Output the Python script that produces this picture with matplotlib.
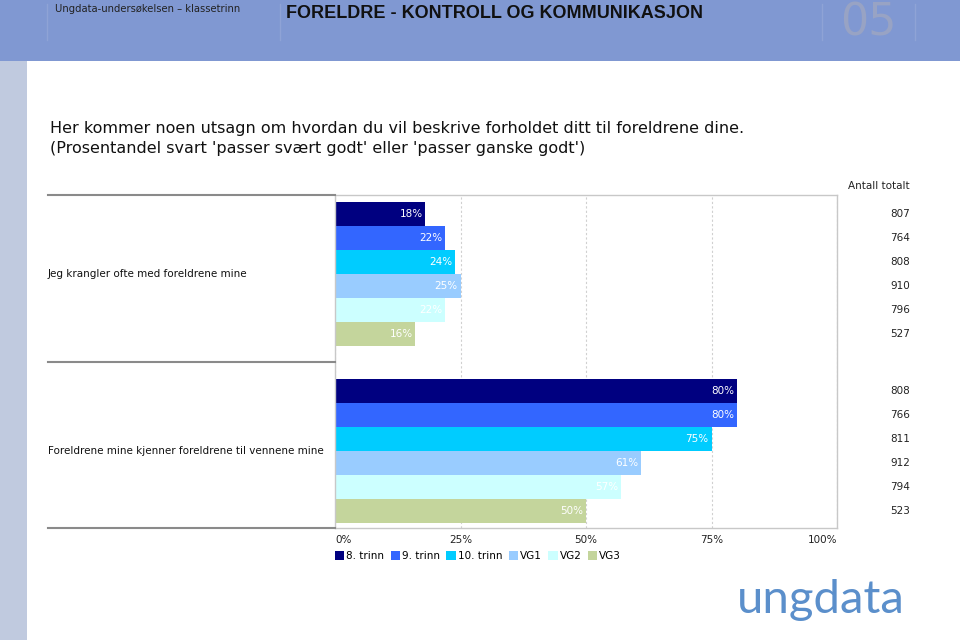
import matplotlib.pyplot as plt
from matplotlib.patches import Rectangle
from matplotlib.lines import Line2D
from matplotlib.transforms import blended_transform_factory

# data
statements = ["Jeg krangler ofte med foreldrene mine",
              "Foreldrene mine kjenner foreldrene til vennene mine"]
grades = ["8. trinn", "9. trinn", "10. trinn", "VG1", "VG2", "VG3"]
pct_krangler = [18, 22, 24, 25, 22, 16]
pct_kjenner = [80, 80, 75, 61, 57, 50]
n_krangler = [807, 764, 808, 910, 796, 527]
n_kjenner = [808, 766, 811, 912, 794, 523]
xticks = [0, 25, 50, 75, 100]
colors = ["#000080", "#3366ff", "#00ccff", "#99ccff", "#ccffff", "#c4d59c"]

W, H = 960, 640
fig = plt.figure(figsize=(9.6, 6.4), dpi=100)
fig.patch.set_facecolor("white")

def fx(px):
    return px / W

def fy(py):
    return 1 - py / H

# header band and left strip
fig.patches.append(Rectangle((0, fy(61)), 1, 61 / H, transform=fig.transFigure,
                             facecolor="#8098d2", edgecolor="none", zorder=0))
fig.patches.append(Rectangle((0, 0), fx(27), fy(61), transform=fig.transFigure,
                             facecolor="#c0cadf", edgecolor="none", zorder=0))
for x in [47, 280, 822, 915]:
    fig.lines.append(Line2D([fx(x), fx(x)], [fy(4), fy(40)], transform=fig.transFigure,
                            color="#8fa3d6", lw=1))
fig.text(fx(55), fy(9), "Ungdata-undersøkelsen – klassetrinn", fontsize=7.2,
         family="Liberation Sans Narrow", va="center", color="#222222")
fig.text(fx(286), fy(14), "FORELDRE - KONTROLL OG KOMMUNIKASJON", fontsize=13,
         family="Liberation Sans", weight="bold", va="center", color="#111111")
fig.text(fx(868), fy(23), "05", fontsize=32, family="Liberation Sans Narrow",
         ha="center", va="center", color="#98a3c4")

# title
fig.text(fx(50), fy(128), "Her kommer noen utsagn om hvordan du vil beskrive forholdet ditt til foreldrene dine.",
         fontsize=11.5, family="DejaVu Sans", va="center", color="#111111")
fig.text(fx(50), fy(148), "(Prosentandel svart 'passer svært godt' eller 'passer ganske godt')",
         fontsize=11.5, family="DejaVu Sans", va="center", color="#111111")

# chart
ax = fig.add_axes([fx(335), fy(528), fx(837) - fx(335), (528 - 195) / H])
right_tr = blended_transform_factory(fig.transFigure, ax.transData)
bh = 24 / 177
groups = [pct_krangler, pct_kjenner]
counts = [n_krangler, n_kjenner]
for g, vals in enumerate(groups):
    for i, v in enumerate(vals):
        y = g + (i - 2.5) * bh
        ax.barh(y, v, height=bh, color=colors[i], edgecolor="none", zorder=2,
                label=grades[i] if g == 0 else None)
        ax.annotate(f"{v}%", (v, y), xytext=(-2, 0), textcoords="offset points",
                    ha="right", va="center", fontsize=7.5, color="white", zorder=3)
        ax.text(fx(910), y, str(counts[g][i]), transform=right_tr,
                fontsize=7.5, ha="right", va="center", color="#222222")
ax.text(fx(910), fy(186), "Antall totalt", transform=fig.transFigure, fontsize=7.5,
        ha="right", va="center", color="#222222")

ax.set_xlim(0, 100)
ax.set_ylim(1 + 77 / 177, -79 / 177)
ax.set_yticks([])
ax.set_xticks(xticks)
ax.set_xticklabels([f"{t}%" for t in xticks], fontsize=7.5, color="#222222")
ax.get_xticklabels()[0].set_ha("left")
ax.get_xticklabels()[-1].set_ha("right")
ax.tick_params(axis="x", length=0, pad=5)
ax.grid(axis="x", linestyle=(0, (2, 2)), color="#d0d0d0", lw=0.8, zorder=1)
for s in ax.spines.values():
    s.set_color("#c8c8c8")
    s.set_linewidth(1)

# category labels and separators
for g, lab in enumerate(statements):
    fig.text(fx(48), fy(274 + 177 * g), lab, fontsize=7.5, va="center", color="#111111")
for y in [195, 362, 528]:
    fig.lines.append(Line2D([fx(48), fx(335)], [fy(y), fy(y)], transform=fig.transFigure,
                            color="#8a8a8a", lw=1.5))

ax.legend(loc="upper left", bbox_to_anchor=(fx(335), fy(551)),
          bbox_transform=fig.transFigure, ncol=6, frameon=False,
          handlelength=0.9, handleheight=0.9, handletextpad=0.2,
          columnspacing=0.6, borderaxespad=0, borderpad=0,
          prop={"size": 7.5})

fig.text(fx(821), fy(600), "ungdata", fontsize=34, family="Lato",
         color="#5b8fcb", ha="center", va="center")

fig.savefig("out.png", dpi=100)
